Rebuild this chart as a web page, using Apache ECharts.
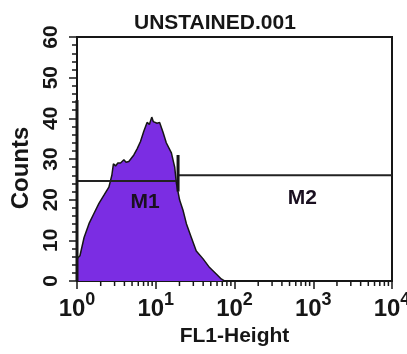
<!DOCTYPE html>
<html>
<head>
<meta charset="utf-8">
<script src="https://cdn.jsdelivr.net/npm/echarts@6/dist/echarts.min.js"></script>
<style>
html,body{margin:0;padding:0;background:#fff;}
#chart{width:407px;height:354px;}
</style>
</head>
<body>
<div id="chart"></div>
<script>
// histogram outline: FL1 channel (log) vs counts
var fl1 = [1.0, 1.09, 1.23, 1.42, 1.64, 1.90, 2.20, 2.54, 2.77, 2.9, 3.09, 3.3, 3.57, 3.94, 4.2, 4.55,
  5.27, 5.80, 6.40, 7.05, 7.76, 8.3, 8.90, 9.3, 9.71, 10.4, 11.2, 12.4, 13.6, 15.8, 17.4, 18.3,
  20.1, 22.2, 24.5, 28.3, 32.7, 39.7, 48.3, 58.7, 67.9, 74.7];
var counts = [5.5, 6.2, 10.7, 14.1, 16.6, 19.1, 21.1, 23.1, 26, 28.8, 28.3, 29, 29, 29.8, 29.2, 29.4,
  31, 32.5, 34.3, 36.8, 39, 38.5, 40.3, 39.2, 39.6, 38.8, 39, 36.5, 34, 31.5, 28, 24,
  19.9, 17.4, 14.1, 10.7, 7.4, 5.5, 3.3, 1.7, 0.5, 0];

// markers (gates)
var gateNames = ['M1', 'M2'];
var gateFrom = [1, 19.2];
var gateTo = [19.2, 10000];
var gateLevel = [24.6, 26];
var gateLabelX = [7.3, 725];
var gateLabelY = [19.4, 20.4];

var yTicks = [0, 10, 20, 30, 40, 50, 60];
var decades = [1, 10, 100, 1000, 10000];

var ink = '#161616';
var purple = '#7B2DE3';
var font = 'Liberation Sans';

var histData = fl1.map(function (x, i) { return [x, counts[i]]; });

// log minor ticks 2..9 within each decade
var minorTicks = [];
for (var d = 0; d < decades.length - 1; d++) {
  for (var k = 2; k <= 9; k++) minorTicks.push([decades[d] * k, 0]);
}

var series = [{
  type: 'line',
  data: histData,
  symbol: 'none',
  lineStyle: { color: ink, width: 1.5 },
  areaStyle: { color: purple, opacity: 1 },
  z: 2
}];

gateNames.forEach(function (name, i) {
  series.push({
    type: 'line',
    data: [[gateFrom[i], gateLevel[i]], [gateTo[i], gateLevel[i]]],
    symbol: 'none',
    lineStyle: { color: '#222', width: 2 },
    z: 3
  });
});

// gate end ticks
series.push({
  type: 'line',
  data: [[gateTo[0], 22], [gateTo[0], 31]],
  symbol: 'none',
  lineStyle: { color: ink, width: 3 },
  z: 4
});
series.push({
  type: 'line',
  data: [[gateFrom[0], 0], [gateFrom[0], 44.5]],
  symbol: 'none',
  clip: false,
  lineStyle: { color: ink, width: 3 },
  z: 4
});

series.push({
  type: 'scatter',
  data: gateNames.map(function (n, i) { return [gateLabelX[i], gateLabelY[i], n]; }),
  symbolSize: 0,
  itemStyle: { color: '#1a1020', opacity: 1 },
  label: {
    show: true,
    position: 'inside',
    formatter: function (p) { return '{m|' + p.value[2] + '}'; },
    rich: { m: { color: '#1a1020', fontSize: 21, fontWeight: 'bold', fontFamily: font } }
  },
  emphasis: { disabled: true },
  z: 5
});

series.push({
  type: 'custom',
  coordinateSystem: 'cartesian2d',
  data: minorTicks,
  clip: false,
  silent: true,
  renderItem: function (params, api) {
    var p = api.coord([api.value(0), 0]);
    return {
      type: 'line',
      shape: { x1: p[0], y1: p[1], x2: p[0], y2: p[1] + 5 },
      style: { stroke: ink, lineWidth: 1.5 }
    };
  },
  z: 6
});

var chart = echarts.init(document.getElementById('chart'));
chart.setOption({
  animation: false,
  backgroundColor: '#fff',
  title: {
    text: 'UNSTAINED.001',
    left: 129,
    top: 8,
    textStyle: { fontSize: 21, fontWeight: 'bold', color: ink, fontFamily: font }
  },
  grid: {
    left: 77, right: 15, top: 37, bottom: 73,
    outerBoundsMode: 'none',
    containLabel: false,
    show: true, borderColor: ink, borderWidth: 2
  },
  xAxis: {
    type: 'log',
    logBase: 10,
    min: decades[0],
    max: decades[decades.length - 1],
    name: 'FL1-Height',
    nameLocation: 'middle',
    nameGap: 43,
    nameTextStyle: { fontSize: 21, fontWeight: 'bold', color: ink, fontFamily: font },
    axisLine: { lineStyle: { color: ink, width: 2 } },
    axisTick: { length: 8, lineStyle: { color: ink, width: 1.5 } },
    minorTick: { show: false },
    splitLine: { show: false },
    axisLabel: {
      margin: 10,
      color: ink,
      fontFamily: font,
      formatter: function (v) { return '{b|10}{s|' + Math.round(Math.log10(v)) + '}'; },
      rich: {
        b: { fontSize: 24, fontWeight: 'bold', color: ink, fontFamily: font, verticalAlign: 'bottom', lineHeight: 30 },
        s: { fontSize: 18, fontWeight: 'bold', color: ink, fontFamily: font, verticalAlign: 'top', lineHeight: 18 }
      }
    }
  },
  yAxis: {
    type: 'value',
    min: yTicks[0],
    max: yTicks[yTicks.length - 1],
    interval: 10,
    name: 'Counts',
    nameLocation: 'middle',
    nameRotate: 90,
    nameGap: 36,
    nameTextStyle: { fontSize: 24, fontWeight: 'bold', color: ink, fontFamily: font, padding: [0, 18, 0, 0] },
    axisLine: { show: true, lineStyle: { color: ink, width: 2 } },
    axisTick: { show: true, length: 8, lineStyle: { color: ink, width: 1.5 } },
    minorTick: { show: true, splitNumber: 5, length: 5, lineStyle: { color: ink, width: 1.5 } },
    splitLine: { show: false },
    axisLabel: { rotate: 90, margin: 15, fontSize: 21, fontWeight: 'bold', color: ink, fontFamily: font }
  },
  series: series
});
</script>
</body>
</html>
